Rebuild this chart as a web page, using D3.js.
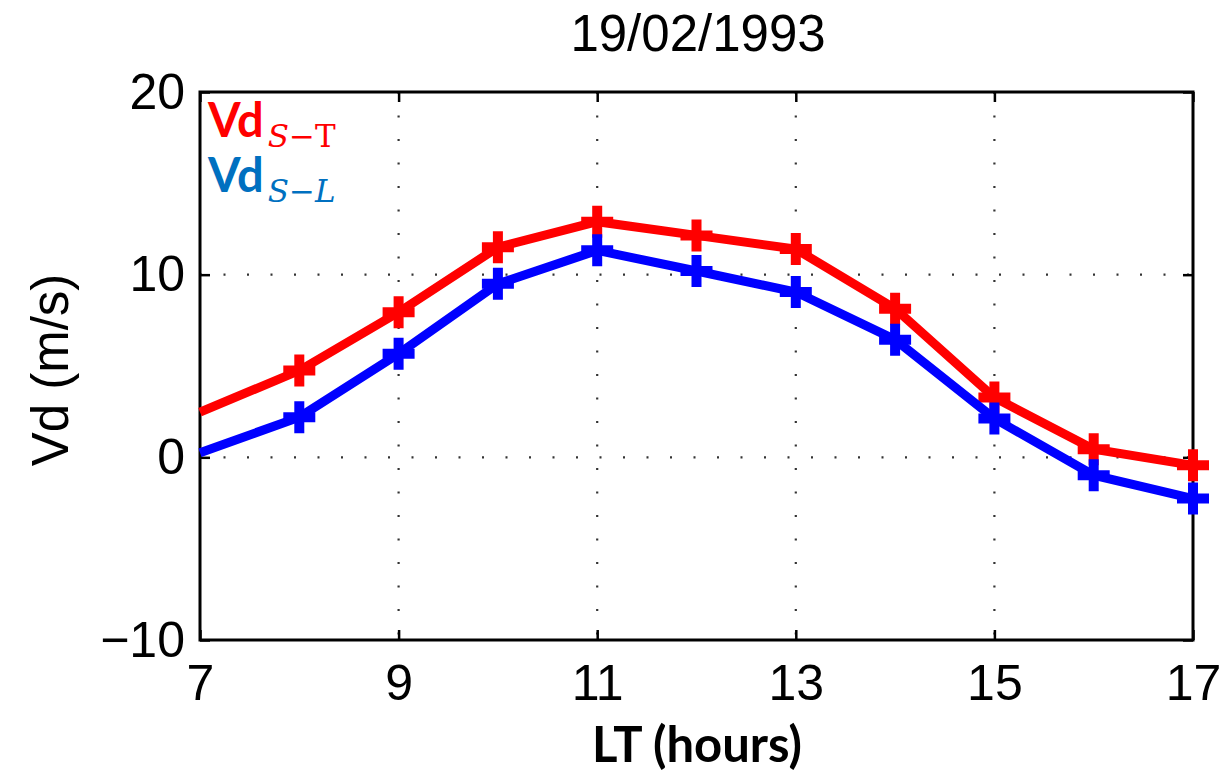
<!DOCTYPE html>
<html>
<head>
<meta charset="utf-8">
<script src="https://cdn.jsdelivr.net/npm/d3@7"></script>
<style>
  body { margin: 0; background: white; }
  svg { display: block; }
</style>
</head>
<body>
<div id="chart"></div>
<script>
var w = 1227, h = 771;

// data
var hours = [7, 8, 9, 10, 11, 12, 13, 14, 15, 16, 17];
var vdST = [2.47, 4.75, 7.94, 11.5, 12.9, 12.15, 11.4, 8.14, 3.27, 0.44, -0.44];
var vdSL = [0.25, 2.2, 5.67, 9.5, 11.33, 10.2, 9.05, 6.44, 2.12, -0.98, -2.26];
var xTicks = [7, 9, 11, 13, 15, 17];
var yTicks = [-10, 0, 10, 20];
var title = "19/02/1993";

var pLeft = 200, pTop = 92, pRight = 1193, pBottom = 640;

var svg = d3.select("#chart").append("svg").attr("width", w).attr("height", h);

var x = d3.scaleLinear().domain([7, 17]).range([pLeft, pRight]);
var y = d3.scaleLinear().domain([-10, 20]).range([pBottom, pTop]);

// dotted grid
var grid = svg.append("g").attr("stroke", "#333").attr("stroke-width", 2.2)
    .attr("stroke-dasharray", "2,21.5");
grid.selectAll("line.gx").data(xTicks.slice(1, -1)).enter().append("line")
    .attr("x1", d => x(d)).attr("x2", d => x(d)).attr("y1", pTop).attr("y2", pBottom);
grid.selectAll("line.gy").data(yTicks.slice(1, -1)).enter().append("line")
    .attr("y1", d => y(d)).attr("y2", d => y(d)).attr("x1", pLeft).attr("x2", pRight);

// axes, matlab box style with inner ticks
var tickLen = 10;
svg.append("g").attr("transform", "translate(0," + pBottom + ")")
    .call(d3.axisBottom(x).tickValues(xTicks).tickSize(-tickLen).tickPadding(24).tickFormat(d3.format("d")))
    .call(g => g.select(".domain").remove());
svg.append("g").attr("transform", "translate(0," + pTop + ")")
    .call(d3.axisTop(x).tickValues(xTicks).tickSize(-tickLen).tickFormat(""))
    .call(g => g.select(".domain").remove());
svg.append("g").attr("transform", "translate(" + pLeft + ",0)")
    .call(d3.axisLeft(y).tickValues(yTicks).tickSize(-tickLen).tickPadding(15).tickFormat(d => d < 0 ? "\u2212" + Math.abs(d) : d))
    .call(g => g.select(".domain").remove());
svg.append("g").attr("transform", "translate(" + pRight + ",0)")
    .call(d3.axisRight(y).tickValues(yTicks).tickSize(-tickLen).tickFormat(""))
    .call(g => g.select(".domain").remove());

svg.selectAll(".tick line").attr("stroke", "black").attr("stroke-width", 2.5);
svg.selectAll(".tick text").attr("fill", "black")
    .attr("font-family", "Liberation Sans, Arial, sans-serif").attr("font-size", "50px");

svg.append("rect").attr("x", pLeft).attr("y", pTop).attr("width", pRight - pLeft).attr("height", pBottom - pTop)
    .attr("fill", "none").attr("stroke", "black").attr("stroke-width", 3);

// series
var series = [
    { name: "S-T", vals: vdST, color: "#ff0000" },
    { name: "S-L", vals: vdSL, color: "#0000ff" }
];

var line = d3.line().x(d => x(d[0])).y(d => y(d[1]));
var mk = 16;

series.forEach(function (s) {
    var pts = hours.map((hh, i) => [hh, s.vals[i]]);
    svg.append("path").datum(pts).attr("d", line)
        .attr("fill", "none").attr("stroke", s.color).attr("stroke-width", 9)
        .attr("stroke-linejoin", "miter");
    svg.append("g").selectAll("path").data(pts.filter(p => p[0] > 7)).enter().append("path")
        .attr("d", p => "M " + (x(p[0]) - mk) + " " + y(p[1]) + " h " + (2 * mk) +
            " M " + x(p[0]) + " " + (y(p[1]) - mk) + " v " + (2 * mk))
        .attr("stroke", s.color).attr("stroke-width", 10).attr("fill", "none");
});

// labels
svg.append("text").attr("x", 698).attr("y", 51).attr("text-anchor", "middle")
    .attr("font-family", "Liberation Sans, Arial, sans-serif").attr("font-size", "51px").text(title);

svg.append("text").attr("transform", "translate(68," + 370 + ") rotate(-90)").attr("text-anchor", "middle")
    .attr("font-family", "Liberation Sans, Arial, sans-serif").attr("font-size", "51px").text("Vd (m/s)");

svg.append("text").attr("x", 697).attr("y", 762).attr("text-anchor", "middle")
    .attr("font-family", "Lato, sans-serif").attr("font-weight", "bold").attr("font-size", "49px")
    .text("LT (hours)");

// legend
var legend = [
    { main: "Vd", sub: "S\u2212", last: "T", lastStyle: "normal", color: "#ff0000", yb: 137 },
    { main: "Vd", sub: "S\u2212", last: "L", lastStyle: "italic", color: "#0070c0", yb: 192 }
];
legend.forEach(function (l) {
    var t = svg.append("text").attr("x", 208).attr("y", l.yb).attr("fill", l.color);
    t.append("tspan").attr("font-family", "Lato, sans-serif").attr("font-weight", "bold")
        .attr("font-size", "47px").text(l.main);
    t.append("tspan").attr("dx", 4).attr("dy", 10).attr("font-family", "DejaVu Serif, serif")
        .attr("font-style", "italic").attr("font-size", "31px").text(l.sub);
    t.append("tspan").attr("font-family", "DejaVu Serif, serif")
        .attr("font-style", l.lastStyle).attr("font-size", "31px").text(l.last);
});
</script>
</body>
</html>
